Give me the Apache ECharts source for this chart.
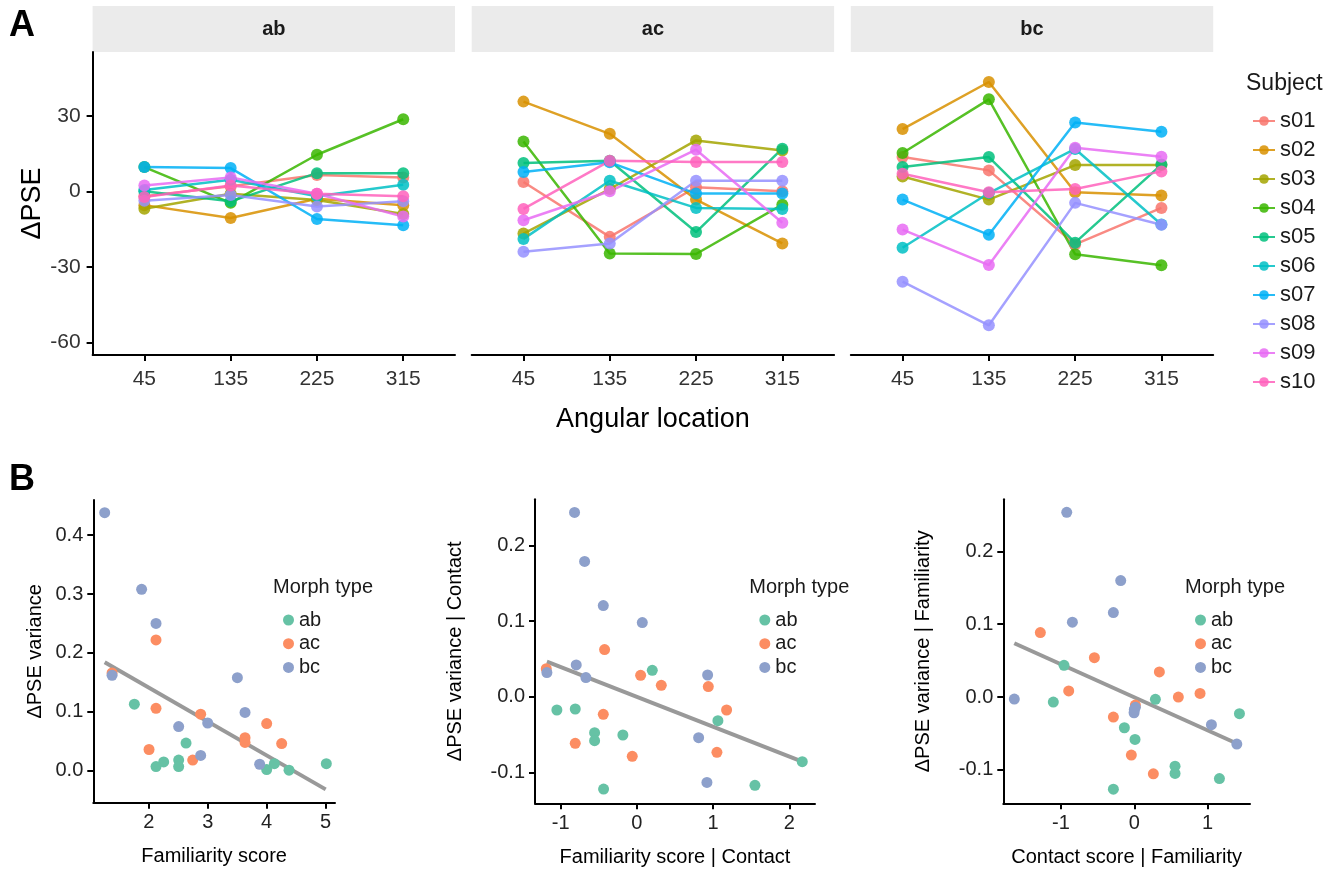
<!DOCTYPE html>
<html>
<head>
<meta charset="utf-8">
<script src="https://cdn.jsdelivr.net/npm/echarts@6/dist/echarts.min.js"></script>
<style>
  html, body { margin: 0; padding: 0; background: #fff; }
  #chart { width: 1342px; height: 869px; }
</style>
</head>
<body>
<div id="chart"></div>
<script>
// ---- data ----
const angles = [45, 135, 225, 315];
const subjects = ['s01', 's02', 's03', 's04', 's05', 's06', 's07', 's08', 's09', 's10'];
const subjectColors = ['#F8766D', '#D89000', '#A3A500', '#39B600', '#00BF7D',
                       '#00BFC4', '#00B0F6', '#9590FF', '#E76BF3', '#FF62BC'];

// ΔPSE per subject at 45/135/225/315
const pseAB = [
  [-2, 2, 6.5, 5.5], [-5.5, -10.6, -3, -5.5], [-6.9, -1, -3.5, -9], [9.6, -4.6, 14.5, 28.6],
  [0, -4, 7.2, 7.2], [0.5, 4.6, -2, 2.6], [9.6, 9.2, -11, -13.5], [-3.8, -1.5, -6, -4],
  [2.3, 5.5, -1, -10], [-2.3, 2.3, -1, -2]
];
const pseAC = [
  [3.7, -18.1, 1.6, 0], [35.6, 22.8, -3.3, -20.7], [-16.8, 0.9, 20.2, 16.2], [19.8, -24.7, -24.9, -5.3],
  [11.2, 12.1, -16.2, 16.9], [-18.9, 4.2, -6.6, -7], [7.7, 11.5, -0.9, -0.9], [-24, -20.7, 4.2, 4.2],
  [-11.5, 0, 16.5, -12.5], [-7, 12.1, 11.6, 11.6]
];
const pseBC = [
  [13.6, 8.3, -21.1, -6.6], [24.7, 43.4, -0.4, -1.7], [5.9, -3.3, 10.4, 10.4], [15.2, 36.5, -25, -29.4],
  [9.6, 13.6, -20.4, 10.6], [-22.4, -0.7, 16.8, -13.2], [-3.3, -17.3, 27.3, 23.6], [-35.9, -53.2, -4.6, -13.3],
  [-15.2, -29.3, 17.3, 13.7], [7, -0.4, 0.9, 7.9]
];
const facets = ['ab', 'ac', 'bc'];
const topYTicks = [-60, -30, 0, 30];

const morphTypes = ['ab', 'ac', 'bc'];
const morphColors = ['#66C2A5', '#FC8D62', '#8DA0CB'];

// B1: familiarity score vs ΔPSE variance
const famAB = [[1.757, 0.113], [2.633, 0.047], [2.508, 0.018], [2.508, 0.007], [2.254, 0.015],
               [2.124, 0.007], [4.13, 0.012], [4.0, 0.002], [4.379, 0.001], [5.011, 0.012]];
const famAC = [[2.124, 0.222], [1.379, 0.166], [2.124, 0.106], [2.881, 0.096], [4.0, 0.080],
               [3.633, 0.056], [3.633, 0.048], [4.254, 0.046], [2.006, 0.036], [2.746, 0.018]];
const famBC = [[1.254, 0.438], [1.88, 0.308], [2.124, 0.250], [1.379, 0.162], [3.503, 0.158],
               [3.633, 0.099], [3.0, 0.081], [2.508, 0.075], [2.881, 0.026], [3.881, 0.011]];
const famFit = [[1.254, 0.184], [5.0, -0.0317]];

// B2: familiarity | contact
const famcAB = [[0.202, 0.0352], [-1.05, -0.0172], [-0.809, -0.0159], [1.063, -0.0313], [-0.555, -0.0471],
                [-0.555, -0.0577], [-0.184, -0.0502], [2.17, -0.0855], [1.549, -0.1167], [-0.437, -0.1216]];
const famcAC = [[-0.424, 0.0626], [-1.189, 0.0374], [0.049, 0.0286], [0.320, 0.0154], [0.937, 0.0137],
                [1.177, -0.0172], [-0.441, -0.0229], [-0.809, -0.0612], [1.050, -0.0731], [-0.061, -0.0784]];
const famcBC = [[-0.818, 0.2436], [-0.686, 0.179], [-0.441, 0.1207], [0.071, 0.0982], [-0.796, 0.0423],
                [-0.669, 0.0256], [-1.181, 0.0322], [0.928, 0.029], [0.810, -0.0537], [0.919, -0.1128]];
const famcFit = [[-1.181, 0.0467], [2.17, -0.0855]];

// B3: contact | familiarity
const confAB = [[-0.959, 0.0436], [-1.105, -0.0069], [0.287, -0.0032], [1.433, -0.0229], [-0.136, -0.0422],
                [0.009, -0.0583], [0.555, -0.095], [0.555, -0.105], [1.16, -0.112], [-0.286, -0.1266]];
const confAC = [[-1.282, 0.0885], [-0.545, 0.0541], [0.341, 0.0344], [-0.895, 0.0083], [0.896, 0.005],
                [0.60, 0.0], [0.014, -0.011], [-0.286, -0.0275], [-0.041, -0.0798], [0.259, -0.1055]];
const confBC = [[-0.922, 0.2537], [-0.186, 0.160], [-0.286, 0.116], [-0.845, 0.1028], [-1.637, -0.0028],
                [0.014, -0.0142], [-0.004, -0.0216], [1.051, -0.038], [1.397, -0.0647], [0.0, -0.017]];
const confFit = [[-1.637, 0.0739], [1.397, -0.0638]];

// ---- chart ----
const FONT = '"Liberation Sans", Arial, Helvetica, sans-serif';
const INK = '#1a1a1a';
const chart = echarts.init(document.getElementById('chart'));

const topLeft = [92.6, 471.7, 850.8];
const topW = 362.4;

const grids = [];
const xAxes = [];
const yAxes = [];
const series = [];
const graphics = [];

function line(show) {
  return { show: show, onZero: false, lineStyle: { color: '#000', width: 2 } };
}
function ticks(show, vals) {
  return { show: show, length: 6, customValues: vals, lineStyle: { color: '#000', width: 2 } };
}

// panel A: three facets
facets.forEach(function (f, p) {
  grids.push({ left: topLeft[p], top: 52, width: topW, height: 303 });
  xAxes.push({
    type: 'value', gridIndex: p, min: -9, max: 369,
    axisLine: line(true), axisTick: ticks(true, angles), splitLine: { show: false },
    axisLabel: { customValues: angles, margin: 14, fontSize: 21, color: '#333', fontFamily: FONT },
    name: p === 1 ? 'Angular location' : '',
    nameLocation: 'middle', nameGap: 51,
    nameTextStyle: { fontFamily: FONT, fontSize: 27, color: '#000' }
  });
  yAxes.push({
    type: 'value', gridIndex: p, min: -65, max: 55.3,
    axisLine: line(p === 0), axisTick: ticks(p === 0, topYTicks), splitLine: { show: false },
    axisLabel: { show: p === 0, customValues: topYTicks, margin: 12, fontSize: 21, color: '#333', fontFamily: FONT },
    name: p === 0 ? 'ΔPSE' : '',
    nameLocation: 'middle', nameGap: 40,
    nameTextStyle: { fontFamily: FONT, fontSize: 27, color: '#000' }
  });
  graphics.push({
    type: 'rect', left: topLeft[p], top: 6, shape: { width: topW, height: 46 },
    style: { fill: '#ebebeb' }, silent: true
  });
  graphics.push({
    type: 'text', x: topLeft[p] + topW / 2, y: 29,
    style: { text: f, fontFamily: FONT, fontWeight: 'bold', fontSize: 20, fill: INK,
             textAlign: 'center', textVerticalAlign: 'middle' }
  });
  const rows = [pseAB, pseAC, pseBC][p];
  subjects.forEach(function (s, i) {
    series.push({
      type: 'line', name: s, xAxisIndex: p, yAxisIndex: p,
      data: angles.map(function (a, k) { return [a, rows[i][k]]; }),
      symbol: 'circle', symbolSize: 12, showSymbol: true,
      color: subjectColors[i],
      lineStyle: { width: 2.5, opacity: 0.85 },
      itemStyle: { opacity: 0.85 },
      emphasis: { disabled: true }
    });
  });
});

// panel B: three scatter plots
const bPanels = [
  { left: 93.3, top: 500, width: 241.7, height: 302.7, xmin: 1.061, xmax: 5.158, xt: [2, 3, 4, 5],
    ymin: -0.0543, ymax: 0.4596, yt: [0, 0.1, 0.2, 0.3, 0.4], sets: [famAB, famAC, famBC], fit: famFit,
    xname: 'Familiarity score', yname: 'ΔPSE variance', ygap: 48, legendLeft: 278 },
  { left: 535, top: 499.3, width: 280, height: 304, xmin: -1.337, xmax: 2.337, xt: [-1, 0, 1, 2],
    ymin: -0.1404, ymax: 0.261, yt: [-0.1, 0, 0.1, 0.2], sets: [famcAB, famcAC, famcBC], fit: famcFit,
    xname: 'Familiarity score | Contact', yname: 'ΔPSE variance | Contact', ygap: 70, legendLeft: 754.3 },
  { left: 1003.3, top: 499.3, width: 246.7, height: 304, xmin: -1.787, xmax: 1.577, xt: [-1, 0, 1],
    ymin: -0.146, ymax: 0.2716, yt: [-0.1, 0, 0.1, 0.2], sets: [confAB, confAC, confBC], fit: confFit,
    xname: 'Contact score | Familiarity', yname: 'ΔPSE variance | Familiarity', ygap: 70, legendLeft: 1190 }
];

const legends = [{
  data: subjects, orient: 'vertical', left: 1247, top: 105,
  itemWidth: 22, itemHeight: 12, itemGap: 7, itemTextGap: 6, selectedMode: false,
  textStyle: { fontSize: 22, lineHeight: 16, color: INK, fontFamily: FONT }
}];
graphics.push({
  type: 'text', x: 1246, y: 84,
  style: { text: 'Subject', fontFamily: FONT, fontSize: 23, fill: INK, textVerticalAlign: 'middle' }
});

bPanels.forEach(function (b, j) {
  const gi = 3 + j;
  grids.push({ left: b.left, top: b.top, width: b.width, height: b.height });
  xAxes.push({
    type: 'value', gridIndex: gi, min: b.xmin, max: b.xmax,
    axisLine: line(true), axisTick: ticks(true, b.xt), splitLine: { show: false },
    axisLabel: { customValues: b.xt, margin: 10, fontSize: 20, color: '#222', fontFamily: FONT },
    name: b.xname, nameLocation: 'middle', nameGap: 44,
    nameTextStyle: { fontFamily: FONT, fontSize: 20, color: '#000' }
  });
  yAxes.push({
    type: 'value', gridIndex: gi, min: b.ymin, max: b.ymax,
    axisLine: line(true), axisTick: ticks(true, b.yt), splitLine: { show: false },
    axisLabel: { customValues: b.yt, margin: 10, fontSize: 20, color: '#222', fontFamily: FONT,
                 formatter: function (v) { return Number(v).toFixed(1); } },
    name: b.yname, nameLocation: 'middle', nameGap: b.ygap,
    nameTextStyle: { fontFamily: FONT, fontSize: 20, color: '#000' }
  });
  series.push({
    type: 'line', name: 'fit' + j, xAxisIndex: gi, yAxisIndex: gi, data: b.fit,
    symbol: 'none', lineStyle: { color: '#999999', width: 4 }, z: 1, emphasis: { disabled: true }
  });
  b.sets.forEach(function (pts, k) {
    series.push({
      type: 'scatter', name: morphTypes[k], xAxisIndex: gi, yAxisIndex: gi, data: pts,
      symbolSize: 11, itemStyle: { color: morphColors[k], opacity: 1 }, z: 2, emphasis: { disabled: true }
    });
  });
  legends.push({
    data: morphTypes, orient: 'vertical', left: b.legendLeft, top: 605,
    icon: 'circle', itemWidth: 11, itemHeight: 11, itemGap: 3.7, itemTextGap: 8, selectedMode: false,
    textStyle: { fontSize: 20, lineHeight: 16, color: INK, fontFamily: FONT }
  });
  graphics.push({
    type: 'text', x: b.legendLeft - 5, y: 587,
    style: { text: 'Morph type', fontFamily: FONT, fontSize: 20, fill: INK, textVerticalAlign: 'middle' }
  });
});

// panel letters
graphics.push({ type: 'text', x: 9, y: 26,
  style: { text: 'A', fontFamily: FONT, fontWeight: 'bold', fontSize: 36, fill: '#000', textVerticalAlign: 'middle' } });
graphics.push({ type: 'text', x: 9, y: 480,
  style: { text: 'B', fontFamily: FONT, fontWeight: 'bold', fontSize: 36, fill: '#000', textVerticalAlign: 'middle' } });

chart.setOption({
  animation: false,
  backgroundColor: '#fff',
  textStyle: { fontFamily: FONT },
  grid: grids,
  xAxis: xAxes,
  yAxis: yAxes,
  legend: legends,
  graphic: graphics,
  series: series
});
</script>
</body>
</html>
